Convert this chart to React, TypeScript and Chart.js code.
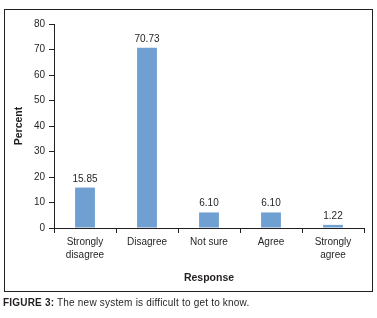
import React, { useEffect, useRef } from "react";
import { Chart, registerables } from "chart.js";

Chart.register(...registerables);

const categories: string[][] = [
  ["Strongly", "disagree"],
  ["Disagree"],
  ["Not sure"],
  ["Agree"],
  ["Strongly", "agree"],
];
const percentValues: number[] = [15.85, 70.73, 6.1, 6.1, 1.22];
const yTicks: number[] = [0, 10, 20, 30, 40, 50, 60, 70, 80];
const xTitle = "Response";
const yTitle = "Percent";
const captionBold = "FIGURE 3:";
const captionText = " The new system is difficult to get to know.";

const FONT = "'Liberation Sans', Arial, sans-serif";
const INK = "#231f20";

const valueLabels = {
  id: "valueLabels",
  afterDatasetsDraw(chart: any) {
    const ctx = chart.ctx;
    const meta = chart.getDatasetMeta(0);
    ctx.save();
    ctx.font = `10px ${FONT}`;
    ctx.fillStyle = INK;
    ctx.textAlign = "center";
    ctx.textBaseline = "alphabetic";
    meta.data.forEach((el: any, i: number) => {
      const v = chart.data.datasets[0].data[i] as number;
      ctx.fillText(v.toFixed(2), el.x, el.y - 6);
    });
    ctx.restore();
  },
};

export default function App() {
  const ref = useRef<HTMLCanvasElement | null>(null);

  useEffect(() => {
    if (!ref.current) return;
    const chart = new Chart(ref.current, {
      type: "bar",
      data: {
        labels: categories,
        datasets: [
          {
            data: percentValues,
            backgroundColor: "#70a0d2",
            borderWidth: 0,
            categoryPercentage: 1,
            barPercentage: 0.32,
          },
        ],
      },
      options: {
        animation: false,
        responsive: false,
        devicePixelRatio: 1,
        layout: { padding: { left: 9, right: 13, top: 24, bottom: 30 } },
        plugins: {
          legend: { display: false },
          tooltip: { enabled: false },
        },
        scales: {
          x: {
            type: "category",
            offset: true,
            grid: {
              offset: true,
              drawOnChartArea: false,
              drawTicks: true,
              tickLength: 5,
              color: INK,
            },
            border: { display: true, color: INK, width: 1 },
            ticks: {
              color: INK,
              font: { family: FONT, size: 10, lineHeight: 1.3 },
              padding: 3,
              maxRotation: 0,
              autoSkip: false,
            },
            title: {
              display: true,
              text: xTitle,
              color: INK,
              font: { family: FONT, size: 10.5, weight: "bold", lineHeight: 1.2 },
              padding: { top: 4, bottom: 4 },
            },
            afterFit(scale: any) {
              scale.height = 60;
            },
          },
          y: {
            min: 0,
            max: 80,
            afterBuildTicks(scale: any) {
              scale.ticks = yTicks.map((v) => ({ value: v }));
            },
            grid: {
              drawOnChartArea: false,
              drawTicks: true,
              tickLength: 5,
              color: INK,
            },
            border: { display: true, color: INK, width: 1 },
            ticks: {
              color: INK,
              font: { family: FONT, size: 10 },
              padding: 4,
            },
            title: {
              display: true,
              text: yTitle,
              color: INK,
              font: { family: FONT, size: 10.5, weight: "bold", lineHeight: 1.2 },
              padding: { top: 4, bottom: 4 },
            },
            afterFit(scale: any) {
              scale.width = 45;
            },
          },
        },
      },
      plugins: [valueLabels],
    } as any);
    return () => chart.destroy();
  }, []);

  return (
    <div
      style={{
        position: "absolute",
        left: 0,
        top: 0,
        width: 377,
        height: 318,
        background: "#fff",
        overflow: "hidden",
      }}
    >
      <canvas
        ref={ref}
        width={377}
        height={318}
        style={{ position: "absolute", left: 0, top: 0, width: 377, height: 318 }}
      />
      <div
        style={{
          position: "absolute",
          left: 4,
          top: 9,
          width: 369,
          height: 283,
          border: `1.5px solid ${INK}`,
          boxSizing: "border-box",
          pointerEvents: "none",
        }}
      />
      <div
        style={{
          position: "absolute",
          left: 3,
          top: 297,
          fontFamily: FONT,
          fontSize: 10,
          letterSpacing: "0.2px",
          lineHeight: "12px",
          color: INK,
          whiteSpace: "nowrap",
        }}
      >
        <b>{captionBold}</b>
        {captionText}
      </div>
    </div>
  );
}
